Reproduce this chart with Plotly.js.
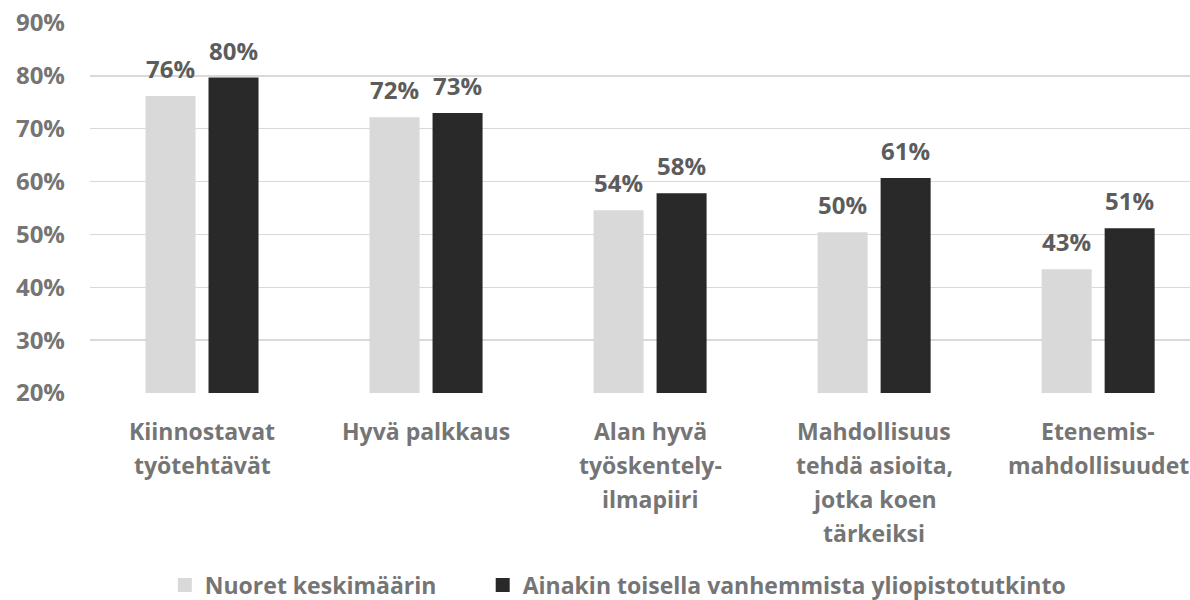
<!DOCTYPE html>
<html>
<head>
<meta charset="utf-8">
<script src="https://cdn.plot.ly/plotly-3.0.1.min.js"></script>
<style>
  html, body { margin: 0; padding: 0; background: #fff; }
  #chart { width: 1190px; height: 600px; }
</style>
</head>
<body>
<div id="chart"></div>
<script>
const categories = ['Kiinnostavat työtehtävät', 'Hyvä palkkaus', 'Alan hyvä työskentely-ilmapiiri',
  'Mahdollisuus tehdä asioita, jotka koen tärkeiksi', 'Etenemis-mahdollisuudet'];
const categoryLines = [
  ['Kiinnostavat', 'työtehtävät'],
  ['Hyvä palkkaus'],
  ['Alan hyvä', 'työskentely-', 'ilmapiiri'],
  ['Mahdollisuus', 'tehdä asioita,', 'jotka koen', 'tärkeiksi'],
  ['Etenemis-', 'mahdollisuudet']
];
const youthAvg = [0.76, 0.72, 0.544, 0.502, 0.432];
const parentUni = [0.795, 0.728, 0.576, 0.605, 0.51];
const seriesNames = ['Nuoret keskimäärin', 'Ainakin toisella vanhemmista yliopistotutkinto'];
const yTicks = [0.2, 0.3, 0.4, 0.5, 0.6, 0.7, 0.8, 0.9];

const FONT = '"Open Sans", Lato, sans-serif';
const axisGrey = '#757575';
const labelGrey = '#5c5c5c';
const lightBar = '#d9d9d9';
const darkBar = '#292929';

const traces = [
  { x: categories, y: youthAvg, name: seriesNames[0], type: 'bar', legend: 'legend',
    marker: { color: lightBar, line: { color: lightBar, width: 2 } }, hoverinfo: 'y' },
  { x: categories, y: parentUni, name: seriesNames[1], type: 'bar', legend: 'legend2',
    marker: { color: darkBar, line: { color: darkBar, width: 2 } }, hoverinfo: 'y' }
];

const annotations = [];
// value labels above the bars
[youthAvg, parentUni].forEach((vals, s) => {
  vals.forEach((v, i) => {
    annotations.push({
      x: categories[i], y: v, xref: 'x', yref: 'y',
      text: Math.round(v * 100) + '%', showarrow: false,
      xshift: s === 0 ? -31.5 : 31.5, yshift: 10, yanchor: 'bottom',
      font: { family: FONT, size: 24, color: labelGrey, weight: 'bold' }
    });
  });
});
// category labels, each line separately for the wide line spacing
categoryLines.forEach((lines, i) => {
  lines.forEach((line, j) => {
    annotations.push({
      x: categories[i], y: 0, xref: 'x', yref: 'paper',
      text: line, showarrow: false, yanchor: 'middle',
      yshift: -38 - j * 34,
      font: { family: FONT, size: 23, color: axisGrey, weight: 'bold' }
    });
  });
});

const legendFont = { family: FONT, size: 23, color: axisGrey, weight: 'bold' };

const layout = {
  width: 1190, height: 600,
  margin: { l: 90, r: 0, t: 23, b: 207, autoexpand: false },
  paper_bgcolor: '#fff', plot_bgcolor: '#fff',
  font: { family: FONT, color: axisGrey },
  barmode: 'group', bargap: 0.4375, bargroupgap: 0.238,
  xaxis: {
    type: 'category', range: [-0.5, 4.41], showticklabels: false,
    showgrid: false, zeroline: false, showline: false, ticks: ''
  },
  yaxis: {
    range: [0.2, 0.9], tickvals: yTicks, tickformat: '.0%',
    showgrid: true, gridcolor: '#d9d9d9', gridwidth: 1.5, zeroline: false,
    showline: false, ticks: '', ticklabelstandoff: 24,
    tickfont: { family: FONT, size: 24, color: axisGrey, weight: 'bold' }
  },
  showlegend: true,
  legend: {
    orientation: 'h', x: 0.068, xanchor: 'left', y: -0.519, yanchor: 'middle',
    itemwidth: 30, font: legendFont
  },
  legend2: {
    orientation: 'h', x: 0.357, xanchor: 'left', y: -0.519, yanchor: 'middle',
    itemwidth: 30, font: legendFont
  },
  annotations: annotations
};

Plotly.newPlot('chart', traces, layout, { displayModeBar: false, staticPlot: true });
</script>
</body>
</html>
